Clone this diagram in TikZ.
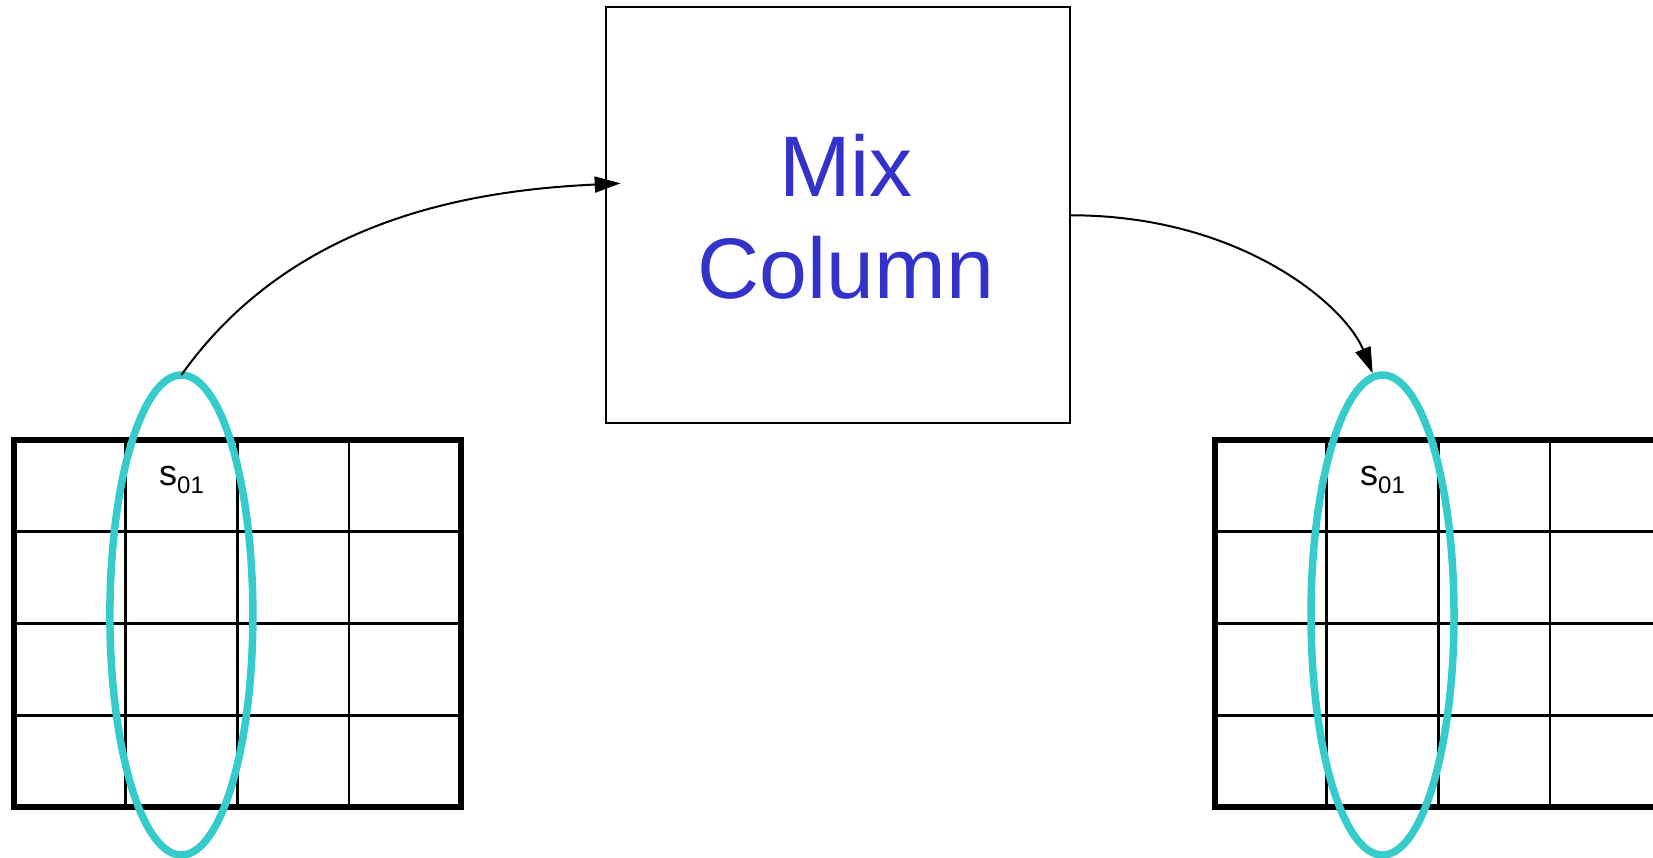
\documentclass[tikz,border=0pt]{standalone}
\usepackage{fontspec}
\setmainfont{Liberation Sans}
\usetikzlibrary{shapes.geometric,arrows.meta}
\definecolor{mixblue}{RGB}{51,51,204}
\definecolor{ringcyan}{RGB}{54,204,204}
\begin{document}
\begin{tikzpicture}[x=1pt,y=-1pt,
  gridframe/.style={draw,line width=6pt,inner sep=0,outer sep=0,minimum width=447.3pt,minimum height=367.5pt},
  gridline/.style={line width=2.7pt},
  ring/.style={draw=ringcyan,ellipse,line width=7.5pt,minimum width=143pt,minimum height=480pt,inner sep=0,outer sep=0},
  flow/.style={line width=2pt,-{Triangle[length=26pt,width=16pt]}},
  cell/.style={anchor=base west,inner sep=0,font=\fontsize{36}{40}\selectfont},
  title/.style={anchor=base,inner sep=0,text=mixblue,font=\fontsize{86}{100}\selectfont},
  stage/.style={draw,line width=2pt,minimum width=464.3pt,minimum height=416pt,inner sep=0,outer sep=0}]
\useasboundingbox (0,0) rectangle (1653,858);
\clip (0,0) rectangle (1653,858);
\fill[white] (0,0) rectangle (1653,858);
% grids
\foreach \ox/\nm in {13.7/gL, 1214.7/gR} {
  \foreach \i in {1,2,3} \draw[gridline] (\ox+\i*111.8, 439.7) -- ++(0,367.5);
  \foreach \j in {1,2,3} \draw[gridline] (\ox, 439.7+\j*91.9) -- ++(447.3,0);
  \node[gridframe] (\nm) at (\ox+223.65, 623.45) {};
}
% labels
\node[cell] (sL) at (159,485) {s\raisebox{-8pt}{\fontsize{24}{26}\selectfont 01}};
\node[cell] (sR) at (1360,485) {s\raisebox{-8pt}{\fontsize{24}{26}\selectfont 01}};
% rings
\node[ring] (eL) at (181.4,615) {};
\node[ring] (eR) at (1382.5,615) {};
% box
\node[stage] (mix) at (837.85,215.3) {};
\node[title] (t1) at (846,196.7) {Mix};
\node[title] (t2) at (846,298.3) {Column};
% arrows
\coordinate (inA) at (620.7,183.3);
\coordinate (inB) at (1372.7,373.3);
\draw[flow] (eL.north) .. controls (295,215) and (480,190) .. (inA);
\draw[flow] (mix.east) .. controls (1240,215) and (1345,305) .. (inB);
\end{tikzpicture}
\end{document}
